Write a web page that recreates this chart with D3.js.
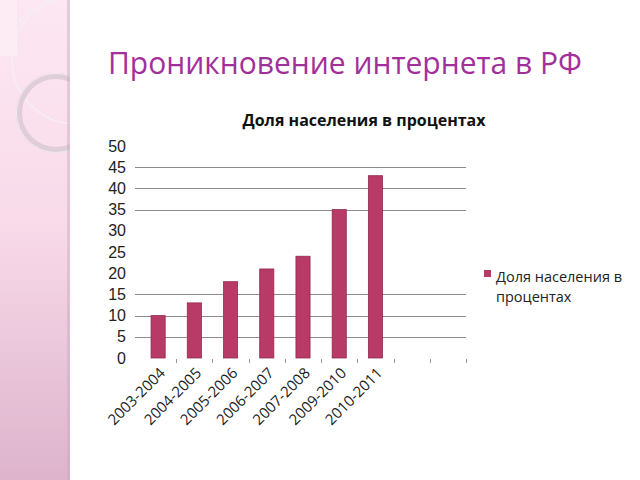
<!DOCTYPE html>
<html>
<head>
<meta charset="utf-8">
<script src="https://cdn.jsdelivr.net/npm/d3@7"></script>
<style>
  body { margin: 0; background: #fff; }
  svg { display: block; }
</style>
</head>
<body>
<svg id="chart" width="640" height="480"></svg>
<script>
// data
var categories = ["2003-2004", "2004-2005", "2005-2006", "2006-2007", "2007-2008", "2009-2010", "2010-2011"];
var values = [10, 13, 18, 21, 24, 35, 43];
var emptySlots = ["_e1", "_e2"];          // two unlabeled slots on the right
var yTicks = [0, 5, 10, 15, 20, 25, 30, 35, 40, 45, 50];
var gridTicks = [5, 10, 15, 35, 40, 45];   // grid lines that show in the picture
var seriesName = "Доля населения в процентах";
var pageTitle = "Проникновение интернета в РФ";

var svg = d3.select("#chart");

// left decorative panel
var defs = svg.append("defs");
var grad = defs.append("linearGradient").attr("id", "side")
    .attr("x1", 0).attr("y1", 0).attr("x2", 0).attr("y2", 1);
grad.append("stop").attr("offset", "0%").attr("stop-color", "#fce7f2");
grad.append("stop").attr("offset", "45%").attr("stop-color", "#f9dbea");
grad.append("stop").attr("offset", "100%").attr("stop-color", "#ddb4cc");
defs.append("clipPath").attr("id", "sideclip")
  .append("rect").attr("x", 0).attr("y", 0).attr("width", 70).attr("height", 480);

var side = svg.append("g").attr("clip-path", "url(#sideclip)");
side.append("rect").attr("width", 70).attr("height", 480).attr("fill", "url(#side)");
side.append("rect").attr("x", -1).attr("y", -1).attr("width", 19).attr("height", 58)
    .attr("fill", "#fdecf4").attr("stroke", "#f6e3ec").attr("stroke-width", 1);
side.append("circle").attr("cx", 76).attr("cy", 60).attr("r", 64)
    .attr("fill", "none").attr("stroke", "#f6eef3").attr("stroke-width", 1.5);
side.append("path").attr("d", "M0,57 Q10,12 58,0")
    .attr("fill", "none").attr("stroke", "#f6eef3").attr("stroke-width", 1.2);
side.append("circle").attr("cx", 56).attr("cy", 113).attr("r", 37)
    .attr("fill", "none").attr("stroke", "#dccbd6").attr("stroke-width", 6).attr("opacity", 0.9);
side.append("circle").attr("cx", 56).attr("cy", 113).attr("r", 39.5)
    .attr("fill", "none").attr("stroke", "#f4eaf0").attr("stroke-width", 1);
side.append("rect").attr("x", 67).attr("width", 3).attr("height", 480)
    .attr("fill", "#c9a9bb").attr("opacity", 0.45);

// page title
svg.append("text")
    .attr("x", 108).attr("y", 74)
    .attr("font-family", "Open Sans, sans-serif")
    .attr("font-size", 31)
    .attr("fill", "#a3309a")
    .attr("textLength", 474).attr("lengthAdjust", "spacingAndGlyphs")
    .text(pageTitle);

// chart title
svg.append("text")
    .attr("x", 364).attr("y", 126)
    .attr("text-anchor", "middle")
    .attr("font-family", "Open Sans, sans-serif")
    .attr("font-size", 16).attr("font-weight", "bold")
    .attr("fill", "#111")
    .text(seriesName);

var x = d3.scaleBand()
    .domain(categories.concat(emptySlots))
    .range([140, 466])
    .paddingInner(0.61)
    .paddingOuter(0.305);

var y = d3.scaleLinear()
    .domain([0, 50])
    .range([358, 146]);

// grid
svg.append("g").selectAll("line")
    .data(gridTicks)
  .enter().append("line")
    .attr("x1", 135).attr("x2", 466)
    .attr("y1", function(d) { return Math.round(y(d)) + 0.5; })
    .attr("y2", function(d) { return Math.round(y(d)) + 0.5; })
    .attr("stroke", "#8c8c8c").attr("stroke-width", 1);

// y axis labels
var yAxis = d3.axisLeft(y).tickValues(yTicks).tickSize(0).tickPadding(0);
var gy = svg.append("g").attr("transform", "translate(126,0)").call(yAxis);
gy.select(".domain").remove();
gy.selectAll("text")
    .attr("font-family", "Liberation Sans, Arial, sans-serif")
    .attr("font-size", 16)
    .attr("fill", "#222");

// category boundary ticks (right edge of each slot)
var step = x.step();
var bounds = x.domain().map(function(d) { return x(d) + x.bandwidth() / 2 + step / 2; });
svg.append("g").selectAll("line")
    .data(bounds)
  .enter().append("line")
    .attr("x1", function(d) { return Math.round(d) + 0.5; })
    .attr("x2", function(d) { return Math.round(d) + 0.5; })
    .attr("y1", 359).attr("y2", 363)
    .attr("stroke", "#999");

// bars
svg.append("g").selectAll("rect")
    .data(values)
  .enter().append("rect")
    .attr("x", function(d, i) { return x(categories[i]); })
    .attr("y", function(d) { return y(d); })
    .attr("width", x.bandwidth())
    .attr("height", function(d) { return y(0) - y(d); })
    .attr("fill", "#b83a66")
    .attr("stroke", "#922b4f").attr("stroke-width", 0.8);

// x labels
svg.append("g").selectAll("text")
    .data(categories)
  .enter().append("text")
    .attr("transform", function(d) {
      return "translate(" + (x(d) + x.bandwidth() / 2 + 8) + ",374) rotate(-45)";
    })
    .attr("text-anchor", "end")
    .attr("font-family", "Open Sans, sans-serif")
    .attr("font-size", 15)
    .attr("fill", "#222")
    .text(function(d) { return d; });

// legend
var lg = svg.append("g").attr("transform", "translate(484,270)");
lg.append("rect").attr("width", 7).attr("height", 7).attr("fill", "#b83a66");
lg.append("text").attr("x", 12).attr("y", 12)
    .attr("font-family", "Open Sans, sans-serif").attr("font-size", 14.5).attr("fill", "#222")
    .text("Доля населения в");
lg.append("text").attr("x", 12).attr("y", 32)
    .attr("font-family", "Open Sans, sans-serif").attr("font-size", 14.5).attr("fill", "#222")
    .text("процентах");
</script>
</body>
</html>
